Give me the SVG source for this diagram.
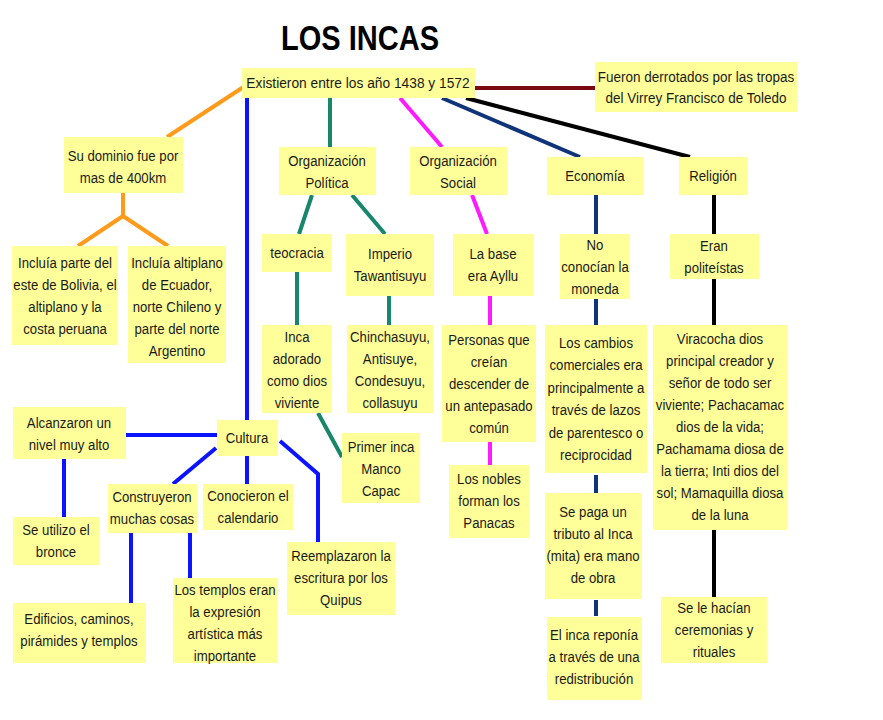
<svg xmlns="http://www.w3.org/2000/svg" width="883" height="720" viewBox="0 0 883 720">
<style>
.box{fill:#ffff99;}
.t{font-family:"Liberation Sans",Arial,sans-serif;font-size:14.5px;fill:#1a1a1a;text-anchor:middle;}
.c{fill:none;stroke-width:4;stroke-linecap:butt;}
.or{stroke:#ff9a1a;}
.bl{stroke:#0a14ff;}
.gr{stroke:#17866a;}
.mg{stroke:#ff1aff;}
.nv{stroke:#10347a;}
.bk{stroke:#000;}
.rd{stroke:#7a0a10;}
</style>
<rect width="883" height="720" fill="#fff"/>
<text x="360" y="50" font-family="Liberation Sans,Arial,sans-serif" font-weight="bold" font-size="35" fill="#000" text-anchor="middle" textLength="158" lengthAdjust="spacingAndGlyphs">LOS INCAS</text>
<g id="connectors">
<path class="c rd" d="M475 88H595"/>
<path class="c or" d="M245 86L167 137"/>
<path class="c or" d="M123 193V216M123 216L78 246M123 216L168 246"/>
<path class="c bl" d="M247 98V420"/>
<path class="c gr" d="M330 98V147"/>
<path class="c mg" d="M400 98L442 147"/>
<path class="c nv" d="M442 98L580 157"/>
<path class="c bk" d="M466 98L690 157"/>
<path class="c gr" d="M312 195L299 234M352 195L385 234"/>
<path class="c mg" d="M472 195L487 234"/>
<path class="c nv" d="M596 195V234"/>
<path class="c bk" d="M714 195V234"/>
<path class="c gr" d="M297 272V325"/>
<path class="c gr" d="M389 296V325"/>
<path class="c mg" d="M490 296V325"/>
<path class="c nv" d="M596 299V325"/>
<path class="c bk" d="M714 279V325"/>
<path class="c gr" d="M318 413L342 457"/>
<path class="c mg" d="M490 442V465"/>
<path class="c nv" d="M596 475V493"/>
<path class="c nv" d="M596 600V616"/>
<path class="c bk" d="M714 530V597"/>
<path class="c bl" d="M126 435H217"/>
<path class="c bl" d="M64 459V517"/>
<path class="c bl" d="M216 448L173 484"/>
<path class="c bl" d="M247 456V484"/>
<path class="c bl" d="M280 441L318 474V542"/>
<path class="c bl" d="M131 533V603"/>
<path class="c bl" d="M190 533V578"/>
</g>
<g id="n-top"><rect class="box" x="242" y="68" width="233" height="30"/><text class="t" transform="translate(358 0) scale(0.95 1)" x="0" y="88">Existieron entre los año 1438 y 1572</text></g>
<g id="n-derrota"><rect class="box" x="595" y="62" width="202" height="50"/><text class="t" transform="translate(696 0) scale(0.93 1)" x="0" y="82">Fueron derrotados por las tropas<tspan x="0" dy="21">del Virrey Francisco de Toledo</tspan></text></g>
<g id="n-dominio"><rect class="box" x="64" y="137" width="119" height="56"/><text class="t" transform="translate(123 0) scale(0.91 1)" x="0" y="161">Su dominio fue por<tspan x="0" dy="22">mas de 400km</tspan></text></g>
<g id="n-bolivia"><rect class="box" x="12" y="246" width="106" height="99"/><text class="t" transform="translate(65 0) scale(0.91 1)" x="0" y="268">Incluía parte del<tspan x="0" dy="22">este de Bolivia, el</tspan><tspan x="0" dy="22">altiplano y la</tspan><tspan x="0" dy="22">costa peruana</tspan></text></g>
<g id="n-ecuador"><rect class="box" x="128" y="246" width="98" height="117"/><text class="t" transform="translate(177 0) scale(0.91 1)" x="0" y="268">Incluía altiplano<tspan x="0" dy="22">de Ecuador,</tspan><tspan x="0" dy="22">norte Chileno y</tspan><tspan x="0" dy="22">parte del norte</tspan><tspan x="0" dy="22">Argentino</tspan></text></g>
<g id="n-politica"><rect class="box" x="279" y="147" width="97" height="48"/><text class="t" transform="translate(327 0) scale(0.91 1)" x="0" y="166">Organización<tspan x="0" dy="22">Política</tspan></text></g>
<g id="n-social"><rect class="box" x="410" y="147" width="97" height="48"/><text class="t" transform="translate(458 0) scale(0.91 1)" x="0" y="166">Organización<tspan x="0" dy="22">Social</tspan></text></g>
<g id="n-economia"><rect class="box" x="547" y="157" width="96" height="38"/><text class="t" transform="translate(595 0) scale(0.91 1)" x="0" y="181">Economía</text></g>
<g id="n-religion"><rect class="box" x="679" y="157" width="69" height="38"/><text class="t" transform="translate(713 0) scale(0.91 1)" x="0" y="181">Religión</text></g>
<g id="n-teocracia"><rect class="box" x="262" y="234" width="70" height="38"/><text class="t" transform="translate(297 0) scale(0.91 1)" x="0" y="258">teocracia</text></g>
<g id="n-imperio"><rect class="box" x="346" y="234" width="88" height="62"/><text class="t" transform="translate(390 0) scale(0.91 1)" x="0" y="259">Imperio<tspan x="0" dy="22">Tawantisuyu</tspan></text></g>
<g id="n-ayllu"><rect class="box" x="453" y="234" width="81" height="62"/><text class="t" transform="translate(493 0) scale(0.91 1)" x="0" y="259">La base<tspan x="0" dy="22">era Ayllu</tspan></text></g>
<g id="n-moneda"><rect class="box" x="560" y="234" width="70" height="65"/><text class="t" transform="translate(595 0) scale(0.91 1)" x="0" y="250">No<tspan x="0" dy="22">conocían la</tspan><tspan x="0" dy="22">moneda</tspan></text></g>
<g id="n-politeistas"><rect class="box" x="670" y="234" width="89" height="45"/><text class="t" transform="translate(714 0) scale(0.91 1)" x="0" y="251">Eran<tspan x="0" dy="22">politeístas</tspan></text></g>
<g id="n-inca"><rect class="box" x="262" y="325" width="70" height="88"/><text class="t" transform="translate(297 0) scale(0.91 1)" x="0" y="342">Inca<tspan x="0" dy="22">adorado</tspan><tspan x="0" dy="22">como dios</tspan><tspan x="0" dy="22">viviente</tspan></text></g>
<g id="n-suyus"><rect class="box" x="347" y="325" width="86" height="88"/><text class="t" transform="translate(390 0) scale(0.91 1)" x="0" y="342">Chinchasuyu,<tspan x="0" dy="22">Antisuye,</tspan><tspan x="0" dy="22">Condesuyu,</tspan><tspan x="0" dy="22">collasuyu</tspan></text></g>
<g id="n-personas"><rect class="box" x="442" y="325" width="94" height="117"/><text class="t" transform="translate(489 0) scale(0.91 1)" x="0" y="345">Personas que<tspan x="0" dy="22">creían</tspan><tspan x="0" dy="22">descender de</tspan><tspan x="0" dy="22">un antepasado</tspan><tspan x="0" dy="22">común</tspan></text></g>
<g id="n-cambios"><rect class="box" x="545" y="325" width="102" height="148"/><text class="t" transform="translate(596 0) scale(0.91 1)" x="0" y="348">Los cambios<tspan x="0" dy="22.5">comerciales era</tspan><tspan x="0" dy="22.5">principalmente a</tspan><tspan x="0" dy="22.5">través de lazos</tspan><tspan x="0" dy="22.5">de parentesco o</tspan><tspan x="0" dy="22.5">reciprocidad</tspan></text></g>
<g id="n-viracocha"><rect class="box" x="653" y="325" width="134" height="205"/><text class="t" transform="translate(720 0) scale(0.91 1)" x="0" y="344">Viracocha dios<tspan x="0" dy="22">principal creador y</tspan><tspan x="0" dy="22">señor de todo ser</tspan><tspan x="0" dy="22">viviente; Pachacamac</tspan><tspan x="0" dy="22">dios de la vida;</tspan><tspan x="0" dy="22">Pachamama diosa de</tspan><tspan x="0" dy="22">la tierra; Inti dios del</tspan><tspan x="0" dy="22">sol; Mamaquilla diosa</tspan><tspan x="0" dy="22">de la luna</tspan></text></g>
<g id="n-manco"><rect class="box" x="342" y="433" width="78" height="70"/><text class="t" transform="translate(381 0) scale(0.91 1)" x="0" y="452">Primer inca<tspan x="0" dy="22">Manco</tspan><tspan x="0" dy="22">Capac</tspan></text></g>
<g id="n-nobles"><rect class="box" x="449" y="465" width="80" height="73"/><text class="t" transform="translate(489 0) scale(0.91 1)" x="0" y="484">Los nobles<tspan x="0" dy="22">forman los</tspan><tspan x="0" dy="22">Panacas</tspan></text></g>
<g id="n-tributo"><rect class="box" x="545" y="493" width="97" height="106"/><text class="t" transform="translate(593 0) scale(0.91 1)" x="0" y="517">Se paga un<tspan x="0" dy="22">tributo al Inca</tspan><tspan x="0" dy="22">(mita) era mano</tspan><tspan x="0" dy="22">de obra</tspan></text></g>
<g id="n-reponia"><rect class="box" x="547" y="617" width="95" height="83"/><text class="t" transform="translate(594 0) scale(0.91 1)" x="0" y="640">El inca reponía<tspan x="0" dy="22">a través de una</tspan><tspan x="0" dy="22">redistribución</tspan></text></g>
<g id="n-ceremonias"><rect class="box" x="661" y="597" width="106" height="66"/><text class="t" transform="translate(714 0) scale(0.91 1)" x="0" y="613">Se le hacían<tspan x="0" dy="22">ceremonias y</tspan><tspan x="0" dy="22">rituales</tspan></text></g>
<g id="n-cultura"><rect class="box" x="217" y="420" width="61" height="36"/><text class="t" transform="translate(247 0) scale(0.91 1)" x="0" y="443">Cultura</text></g>
<g id="n-alcanzaron"><rect class="box" x="13" y="407" width="113" height="52"/><text class="t" transform="translate(69 0) scale(0.91 1)" x="0" y="428">Alcanzaron un<tspan x="0" dy="22">nivel muy alto</tspan></text></g>
<g id="n-bronce"><rect class="box" x="13" y="517" width="87" height="48"/><text class="t" transform="translate(56 0) scale(0.91 1)" x="0" y="535">Se utilizo el<tspan x="0" dy="22">bronce</tspan></text></g>
<g id="n-construyeron"><rect class="box" x="108" y="484" width="89" height="49"/><text class="t" transform="translate(152 0) scale(0.91 1)" x="0" y="502">Construyeron<tspan x="0" dy="22">muchas cosas</tspan></text></g>
<g id="n-calendario"><rect class="box" x="203" y="484" width="90" height="46"/><text class="t" transform="translate(248 0) scale(0.91 1)" x="0" y="501">Conocieron el<tspan x="0" dy="22">calendario</tspan></text></g>
<g id="n-quipus"><rect class="box" x="287" y="542" width="108" height="73"/><text class="t" transform="translate(341 0) scale(0.91 1)" x="0" y="561">Reemplazaron la<tspan x="0" dy="22">escritura por los</tspan><tspan x="0" dy="22">Quipus</tspan></text></g>
<g id="n-edificios"><rect class="box" x="13" y="603" width="133" height="60"/><text class="t" transform="translate(79 0) scale(0.91 1)" x="0" y="624">Edificios, caminos,<tspan x="0" dy="22">pirámides y templos</tspan></text></g>
<g id="n-templos"><rect class="box" x="173" y="578" width="105" height="85"/><text class="t" transform="translate(225 0) scale(0.91 1)" x="0" y="595">Los templos eran<tspan x="0" dy="22">la expresión</tspan><tspan x="0" dy="22">artística más</tspan><tspan x="0" dy="22">importante</tspan></text></g>
</svg>
